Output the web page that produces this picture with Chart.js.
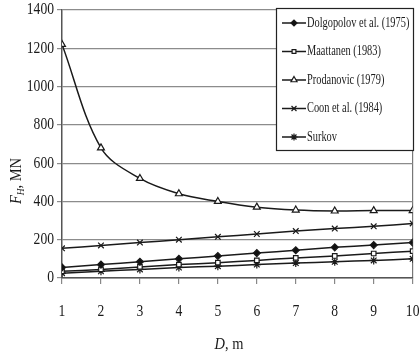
<!DOCTYPE html>
<html>
<head>
<meta charset="utf-8">
<style>
  html, body { margin: 0; padding: 0; background: #fff; }
  #wrap { width: 419px; height: 358px; }
</style>
<script src="https://cdn.jsdelivr.net/npm/chart.js@4/dist/chart.umd.min.js"></script>
</head>
<body>
<div id="wrap"><canvas id="c" width="419" height="358"></canvas></div>
<script>
// Ice load on a structure, F_H (MN), against structure width D (m)
const depths = [1, 2, 3, 4, 5, 6, 7, 8, 9, 10];
const dolgopolov = [55, 70, 85, 100, 115, 130, 145, 160, 172, 185];
const maattanen  = [35, 45, 58, 70, 80, 92, 105, 115, 128, 140];
const prodanovic = [1220, 680, 520, 440, 400, 370, 355, 350, 352, 352];
const coon       = [155, 170, 185, 200, 215, 230, 245, 258, 270, 285];
const surkov     = [25, 35, 45, 55, 62, 70, 78, 85, 92, 100];

const seriesNames = ['Dolgopolov et al. (1975)', 'Maattanen (1983)', 'Prodanovic (1979)', 'Coon et al. (1984)', 'Surkov'];
const seriesValues = [dolgopolov, maattanen, prodanovic, coon, surkov];
const markerStyles = ['rectRot', 'rect', 'triangle', 'crossRot', 'star'];
const markerFills  = ['#111', '#fff', '#fff', '#111', '#111'];
const markerSizes  = [3.5, 3.2, 4, 4, 4];

const yMin = 0, yMax = 1400, yStep = 200;
const xMin = 1, xMax = 10;

const SERIF = '"Liberation Serif", "Times New Roman", serif';
const INK = '#1a1a1a';

function drawText(ctx, s, x, y, font, align, sx) {
  ctx.save();
  ctx.translate(x, y);
  ctx.scale(sx, 1);
  ctx.font = font;
  ctx.textAlign = align;
  ctx.textBaseline = 'middle';
  ctx.fillStyle = INK;
  ctx.fillText(s, 0, 0);
  ctx.restore();
}

// draws a run of differently styled pieces centred on (0,0) of the current transform
function drawRuns(ctx, runs, sx) {
  let total = 0;
  runs.forEach(r => { ctx.font = r.font; total += ctx.measureText(r.t).width; });
  ctx.save();
  ctx.scale(sx, 1);
  let x = -total / 2;
  ctx.fillStyle = INK;
  ctx.textAlign = 'left';
  runs.forEach(r => {
    ctx.font = r.font;
    ctx.textBaseline = 'middle';
    ctx.fillText(r.t, x, r.dy || 0);
    x += ctx.measureText(r.t).width;
  });
  ctx.restore();
}

const decorations = {
  id: 'decorations',
  afterDraw(chart) {
    const ctx = chart.ctx;
    const xs = chart.scales.x, ys = chart.scales.y;
    const area = chart.chartArea;

    // tick labels
    ys.ticks.forEach((t, i) => {
      drawText(ctx, String(t.value), area.left - 8, ys.getPixelForTick(i), '17px ' + SERIF, 'right', 0.8);
    });
    xs.ticks.forEach((t, i) => {
      drawText(ctx, String(t.value), xs.getPixelForTick(i), area.bottom + 34, '17px ' + SERIF, 'center', 0.8);
    });

    // axis titles
    ctx.save();
    ctx.translate(229, area.bottom + 67);
    drawRuns(ctx, [
      { t: 'D', font: 'italic 17px ' + SERIF },
      { t: ', m', font: '17px ' + SERIF }
    ], 0.85);
    ctx.restore();

    ctx.save();
    ctx.translate(17, 181);
    ctx.rotate(-Math.PI / 2);
    drawRuns(ctx, [
      { t: 'F', font: 'italic 17px ' + SERIF },
      { t: 'H', font: 'italic 11px ' + SERIF, dy: 4 },
      { t: ', MN', font: '17px ' + SERIF }
    ], 0.85);
    ctx.restore();

    // legend box
    const lx = 276, ly = 8, lw = 137, lh = 142;
    ctx.save();
    ctx.fillStyle = '#fff';
    ctx.fillRect(lx, ly, lw, lh);
    ctx.strokeStyle = '#222';
    ctx.lineWidth = 1.2;
    ctx.strokeRect(lx + 0.5, ly + 0.5, lw, lh);
    seriesNames.forEach((name, i) => {
      const cy = 23 + i * 28.5;
      ctx.strokeStyle = INK;
      ctx.lineWidth = 1.5;
      ctx.beginPath();
      ctx.moveTo(282, cy);
      ctx.lineTo(306, cy);
      ctx.stroke();
      ctx.fillStyle = markerFills[i];
      ctx.strokeStyle = INK;
      ctx.lineWidth = 1.2;
      Chart.helpers.drawPoint(ctx, {
        pointStyle: markerStyles[i], radius: markerSizes[i] - 0.5, rotation: 0, borderWidth: 1.2
      }, 294, cy);
      drawText(ctx, name, 307, cy, '15px ' + SERIF, 'left', 0.69);
    });
    ctx.restore();
  }
};

const datasets = seriesNames.map((name, i) => ({
  label: name,
  data: depths.map((d, k) => ({ x: d, y: seriesValues[i][k] })),
  borderColor: INK,
  borderWidth: 1.5,
  backgroundColor: markerFills[i],
  pointBackgroundColor: markerFills[i],
  pointBorderColor: INK,
  pointBorderWidth: 1.2,
  pointStyle: markerStyles[i],
  pointRadius: markerSizes[i],
  tension: 0.35,
  fill: false
}));

new Chart(document.getElementById('c'), {
  type: 'line',
  data: { datasets },
  options: {
    responsive: false,
    animation: false,
    devicePixelRatio: 1,
    layout: { padding: { left: 0, right: 0, top: 10, bottom: 0 } },
    plugins: { legend: { display: false }, tooltip: { enabled: false } },
    scales: {
      x: {
        type: 'linear',
        min: xMin, max: xMax,
        ticks: { stepSize: 1, color: 'rgba(0,0,0,0)', font: { size: 6 } },
        grid: {
          color: ctx => (ctx.tick && ctx.tick.value === xMax) ? '#777' : 'rgba(0,0,0,0)',
          tickColor: '#888',
          tickLength: 6,
          lineWidth: 1.2
        },
        border: { display: true, color: '#555', width: 1.5 },
        afterFit(scale) { scale.height = 80; }
      },
      y: {
        min: yMin, max: yMax,
        ticks: { stepSize: yStep, color: 'rgba(0,0,0,0)', font: { size: 6 } },
        grid: { color: '#8c8c8c', lineWidth: 1.2, tickLength: 5, tickColor: '#8c8c8c' },
        border: { display: true, color: '#555', width: 1.5 },
        afterFit(scale) { scale.width = 62; }
      }
    }
  },
  plugins: [decorations]
});
</script>
</body>
</html>
